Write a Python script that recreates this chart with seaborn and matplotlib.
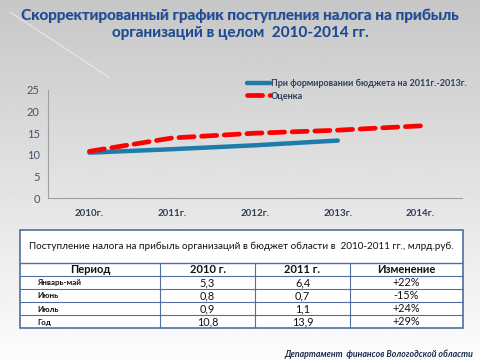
import matplotlib
matplotlib.use("Agg")
import matplotlib.pyplot as plt
import seaborn as sns
import pandas as pd
import numpy as np

# =-= Data =-= #
years = ["2010г.", "2011г.", "2012г.", "2013г.", "2014г."]
budget = [10.5, 11.3, 12.2, 13.3, None]
estimate = [10.8, 13.9, 15.0, 15.7, 16.7]
budget_label = "При формировании бюджета на 2011г.-2013г."
estimate_label = "Оценка"

table_title = "Поступление налога на прибыль организаций в бюджет области в  2010-2011 гг., млрд.руб."
table_header = ["Период", "2010 г.", "2011 г.", "Изменение"]
periods = ["Январь-май", "Июнь", "Июль", "Год"]
vals_2010 = ["5,3", "0,8", "0,9", "10,8"]
vals_2011 = ["6,4", "0,7", "1,1", "13,9"]
changes = ["+22%", "-15%", "+24%", "+29%"]

title = "Скорректированный график поступления налога на прибыль\nорганизаций в целом  2010-2014 гг."
footer = "Департамент  финансов Вологодской области"

sns.set_style("white")
plt.rcParams["font.family"] = ["Lato", "DejaVu Sans"]

W, H = 480, 360
fig = plt.figure(figsize=(W / 100, H / 100), dpi=100)

# background gradient
bg = fig.add_axes([0, 0, 1, 1])
grad = np.linspace(0.78, 0.99, 256).reshape(-1, 1)
bg.imshow(grad, aspect="auto", cmap="gray", vmin=0, vmax=1, extent=[0, W, H, 0])
bg.plot([10, 110], [12, 78], color="white", lw=0.6, alpha=0.7)
bg.set_xlim(0, W)
bg.set_ylim(H, 0)
bg.axis("off")

# title with soft shadow
fig.text(0.5 + 0.7 / W, 1 - 24.7 / H, title, ha="center", va="center",
         fontsize=11, fontweight="bold", color="#7f8fa8", linespacing=1.25, alpha=0.6)
fig.text(0.5, 1 - 24 / H, title, ha="center", va="center",
         fontsize=11, fontweight="bold", color="#1C4A94", linespacing=1.25)

# chart
ax = fig.add_axes([48 / W, 1 - 198 / H, (462 - 48) / W, (198 - 90) / H])
ax.patch.set_alpha(0)
df = pd.DataFrame({"year": years, "budget": budget, "estimate": estimate})
x = np.arange(len(years))
df["x"] = x
sns.lineplot(data=df.dropna(subset=["budget"]), x="x", y="budget", ax=ax,
             color="#1F7BAA", lw=3.2, label=budget_label)
sns.lineplot(data=df, x="x", y="estimate", ax=ax, color="#FF0000", lw=3.4,
             label=estimate_label)
ax.lines[1].set_dashes([3.2, 1.6])
ax.lines[1].set_dash_capstyle("round")

ax.set_xlim(-0.5, len(years) - 0.5)
ax.set_ylim(0, 25)
ax.set_yticks(range(0, 26, 5))
ax.set_xticks(x)
ax.set_xticklabels(years, fontsize=7, fontweight="bold", color="#2F3E5A")
ax.tick_params(axis="x", length=0, pad=8)
ax.tick_params(axis="y", labelsize=8, labelcolor="#44546A", length=3, color="#A0A0A0", pad=3)
ax.set_xticks(np.arange(-0.5, len(years), 1), minor=True)
ax.tick_params(axis="x", which="minor", length=4, color="#A0A0A0", direction="out")
ax.set_xlabel("")
ax.set_ylabel("")
for s in ["top", "right"]:
    ax.spines[s].set_visible(False)
for s in ["left", "bottom"]:
    ax.spines[s].set_color("#A0A0A0")
    ax.spines[s].set_linewidth(0.8)
leg = ax.legend(loc="upper left", bbox_to_anchor=(0.46, 1.175), frameon=False,
                prop={"weight": "bold", "size": 6.5}, handlelength=2.6,
                handletextpad=0.1, labelspacing=0.35, labelcolor="#2F3E5A")

# table
tx0, tx1 = 20, 463
ty0, ty1, ty2 = 230, 263, 328
cols = [20, 160, 255, 350, 463]
tab = fig.add_axes([0, 0, 1, 1])
tab.set_xlim(0, W)
tab.set_ylim(H, 0)
tab.axis("off")
lc = "#4F6FA0"
tab.add_patch(plt.Rectangle((tx0, ty0), tx1 - tx0, ty2 - ty0, facecolor="white",
                            edgecolor=lc, lw=1.2))
tab.text((tx0 + tx1) / 2, (ty0 + ty1) / 2, table_title, ha="center", va="center",
         fontsize=7.1, color="#111111")
rows = [table_header] + [list(r) for r in zip(periods, vals_2010, vals_2011, changes)]
rh = (ty2 - ty1) / len(rows)
tab.plot([tx0, tx1], [ty1, ty1], color=lc, lw=1.0)
for i in range(1, len(rows)):
    tab.plot([tx0, tx1], [ty1 + i * rh] * 2, color=lc, lw=0.8)
for c in cols[1:-1]:
    tab.plot([c, c], [ty1, ty2], color=lc, lw=0.8)
for i, row in enumerate(rows):
    yc = ty1 + (i + 0.5) * rh
    for j, val in enumerate(row):
        if i == 0:
            tab.text((cols[j] + cols[j + 1]) / 2, yc, val, ha="center", va="center",
                     fontsize=8, fontweight="bold", color="#111111")
        elif j == 0:
            tab.text(37, yc + 0.5, val, ha="left", va="center", fontsize=5.8,
                     fontweight="bold", color="#111111")
        else:
            tab.text((cols[j] + cols[j + 1]) / 2, yc, val, ha="center", va="center",
                     fontsize=7.8, color="#111111")

fig.text(473 / W, 1 - 354 / H, footer, ha="right", va="center", fontsize=6.3,
         fontweight="bold", fontstyle="italic", color="#1a2a4a")

fig.savefig("out.png", dpi=100)
